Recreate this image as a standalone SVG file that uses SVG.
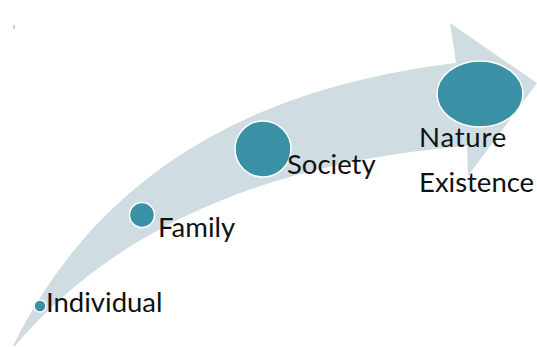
<svg xmlns="http://www.w3.org/2000/svg" width="537" height="347" viewBox="0 0 537 347">
<style>
.dot{fill:#3a90a5;stroke:#ffffff;stroke-width:1.5}
.lbl{font-family:Lato,"Open Sans","DejaVu Sans",sans-serif;font-size:27.5px;fill:#111111}
</style>
<rect width="537" height="347" fill="#ffffff"/>
<rect x="13.5" y="25" width="1" height="4" fill="#7fb3c2"/>
<g id="connectors">
<path id="arrow" d="M13,346 C90,190 230,90 456,63 L450,23 L537,83 L468,176 L467,146 C300,160 130,210 15,346 Z" fill="#cfdde3"/>
</g>
<g id="individual">
<circle class="dot" cx="40" cy="306" r="6"/>
<text class="lbl" x="46" y="312">Individual</text>
</g>
<g id="family">
<circle class="dot" cx="142" cy="215" r="12.5"/>
<text class="lbl" x="158" y="237">Family</text>
</g>
<g id="society">
<circle class="dot" cx="263" cy="149" r="28"/>
<text class="lbl" x="287" y="174">Society</text>
</g>
<g id="nature">
<ellipse class="dot" cx="480" cy="94" rx="43" ry="33"/>
<text class="lbl" x="419" y="147" letter-spacing="0.8">Nature</text>
<text class="lbl" x="419" y="192">Existence</text>
</g>
</svg>
